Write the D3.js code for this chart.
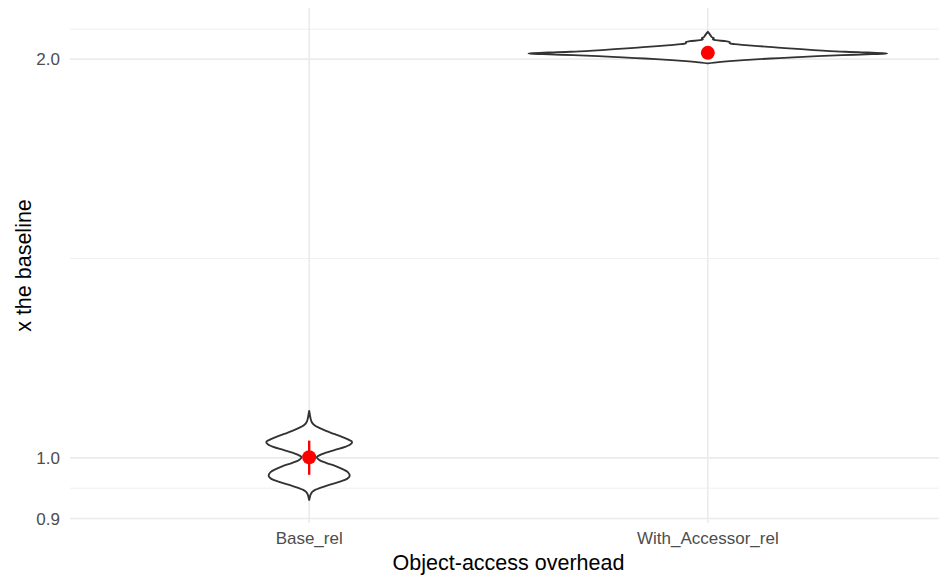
<!DOCTYPE html>
<html>
<head>
<meta charset="utf-8">
<script src="https://cdn.jsdelivr.net/npm/d3@7"></script>
<style>
  html, body { margin: 0; padding: 0; background: #ffffff; }
  svg { display: block; font-family: "Liberation Sans", Arial, Helvetica, sans-serif; }
</style>
</head>
<body>
<svg id="chart" width="939" height="575"></svg>
<script>
// ---------- data ----------
const categories = ["Base_rel", "With_Accessor_rel"];

// violin outlines: value (x the baseline) and relative density (1 = widest violin)
const baseValues = [1.0851, 1.0794, 1.0720, 1.0645, 1.0590, 1.0535, 1.0480, 1.0426, 1.0372, 1.0318, 1.0282,
  1.0246, 1.0193, 1.0140, 1.0087, 1.0044, 1.0009, 0.9965, 0.9913, 0.9862, 0.9811, 0.9760, 0.9692, 0.9642,
  0.9592, 0.9542, 0.9492, 0.9459, 0.9426, 0.9377, 0.9329, 0.9296];
const baseDensity = [0, 0.003, 0.007, 0.014, 0.028, 0.056, 0.094, 0.139, 0.183, 0.222, 0.239,
  0.233, 0.200, 0.144, 0.089, 0.056, 0.042, 0.056, 0.094, 0.144, 0.183, 0.214, 0.226, 0.211,
  0.167, 0.111, 0.061, 0.033, 0.017, 0.007, 0.003, 0];

const accValues = [2.0973, 2.0925, 2.0853, 2.0780, 2.0744, 2.0708, 2.0672, 2.0636, 2.0600, 2.0565, 2.0529,
  2.0494, 2.0458, 2.0422, 2.0387, 2.0351, 2.0316, 2.0281, 2.0246, 2.0200, 2.0175, 2.0140, 2.0105, 2.0070,
  2.0036, 2.0001, 1.9966, 1.9931, 1.9897, 1.9852];
const accDensity = [0, 0.006, 0.014, 0.022, 0.033, 0.028, 0.044, 0.100, 0.122, 0.122, 0.150,
  0.210, 0.280, 0.360, 0.430, 0.520, 0.590, 0.680, 0.840, 1.000, 0.917, 0.750, 0.611, 0.500,
  0.400, 0.289, 0.200, 0.122, 0.061, 0];

// summary (point + range)
const summaryMean = [1.0010, 2.0220];
const summaryLow  = [0.9710, 2.0120];
const summaryHigh = [1.0305, 2.0320];

const yBreaks = [0.9, 1.0, 2.0];
const yBreakLabels = ["0.9", "1.0", "2.0"];
const yMinorBreaks = [0.9487, 1.4142, 2.107];

const xTitle = "Object-access overhead";
const yTitle = "x the baseline";

// ---------- layout ----------
const W = 939, H = 575;
const panel = { left: 70, right: 947, top: 8, bottom: 523 };

const svg = d3.select("#chart");

const x = d3.scalePoint().domain(categories).range([panel.left, panel.right]).padding(0.6);
const step = x.step();
const y = d3.scaleLog().domain([0.893, 2.186]).range([panel.bottom, panel.top]);
const w = d3.scaleLinear().domain([0, 1]).range([0, 0.45 * step]);

// grid
const grid = svg.append("g");
grid.selectAll("line.minor").data(yMinorBreaks).join("line")
  .attr("x1", panel.left).attr("x2", W)
  .attr("y1", d => y(d)).attr("y2", d => y(d))
  .attr("stroke", "#ebebeb").attr("stroke-width", 0.8);
grid.selectAll("line.major").data(yBreaks).join("line")
  .attr("x1", panel.left).attr("x2", W)
  .attr("y1", d => y(d)).attr("y2", d => y(d))
  .attr("stroke", "#ebebeb").attr("stroke-width", 1.6);
grid.selectAll("line.vx").data(categories).join("line")
  .attr("x1", d => x(d)).attr("x2", d => x(d))
  .attr("y1", panel.top).attr("y2", panel.bottom)
  .attr("stroke", "#ebebeb").attr("stroke-width", 1.6);

// violins
const violins = [
  { cat: categories[0], values: baseValues, dens: baseDensity },
  { cat: categories[1], values: accValues, dens: accDensity }
];
violins.forEach(v => {
  const pts = v.values.map((val, i) => ({ v: val, d: v.dens[i] }));
  const cx = x(v.cat);
  const area = d3.area()
    .y(p => y(p.v))
    .x0(p => cx - w(p.d))
    .x1(p => cx + w(p.d))
    .curve(d3.curveCatmullRom.alpha(0.5));
  svg.append("path")
    .attr("d", area(pts))
    .attr("fill", "#ffffff")
    .attr("stroke", "#333333")
    .attr("stroke-width", 1.9)
    .attr("stroke-linejoin", "round");
});

// summaries
categories.forEach((c, i) => {
  svg.append("line")
    .attr("x1", x(c)).attr("x2", x(c))
    .attr("y1", y(summaryLow[i])).attr("y2", y(summaryHigh[i]))
    .attr("stroke", "red").attr("stroke-width", 2.4);
  svg.append("circle")
    .attr("cx", x(c)).attr("cy", y(summaryMean[i]))
    .attr("r", 7).attr("fill", "red");
});

// y tick labels
svg.append("g").selectAll("text").data(yBreaks).join("text")
  .attr("x", 60).attr("y", d => y(d))
  .attr("dy", "0.36em")
  .attr("text-anchor", "end")
  .attr("font-size", 17)
  .attr("fill", "#4d4d4d")
  .text((d, i) => yBreakLabels[i]);

// x tick labels
svg.append("g").selectAll("text").data(categories).join("text")
  .attr("x", d => x(d)).attr("y", 544)
  .attr("text-anchor", "middle")
  .attr("font-size", 17)
  .attr("fill", "#4d4d4d")
  .text(d => d);

// axis titles
svg.append("text")
  .attr("x", (panel.left + panel.right) / 2).attr("y", 570)
  .attr("text-anchor", "middle")
  .attr("font-size", 21.5)
  .attr("fill", "#000000")
  .text(xTitle);

svg.append("text")
  .attr("transform", `translate(31,${(panel.top + panel.bottom) / 2}) rotate(-90)`)
  .attr("text-anchor", "middle")
  .attr("font-size", 21.5)
  .attr("fill", "#000000")
  .text(yTitle);
</script>
</body>
</html>
